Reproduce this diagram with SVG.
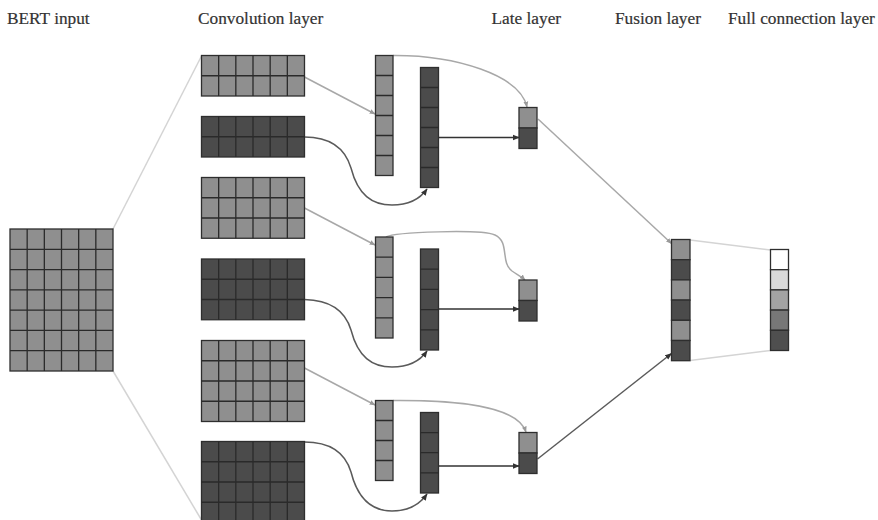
<svg xmlns="http://www.w3.org/2000/svg" width="878" height="520" viewBox="0 0 878 520">
  <style>
    .lbl { font-family: "Liberation Serif", "Times New Roman", serif; font-size: 17.3px; fill: #333; stroke: #333; stroke-width: 0.2; }
    .lt { fill: #8f8f8f; stroke: #2e2e2e; stroke-width: 1.3; }
    .dk { fill: #4b4b4b; stroke: #2e2e2e; stroke-width: 1.3; }
    .ln { fill: none; stroke: #2a2a2a; stroke-width: 1.3; }
    .fan { fill: none; stroke: #d4d4d4; stroke-width: 1.5; }
    .cl { fill: none; stroke: #a8a8a8; stroke-width: 1.5; marker-end: url(#ahL); }
    .cd { fill: none; stroke: #5a5a5a; stroke-width: 1.5; marker-end: url(#ahD); }
    .cs { fill: none; stroke: #333; stroke-width: 1.3; marker-end: url(#ahD); }
  </style>
  <defs>
    <marker id="ahL" viewBox="0 0 10 10" refX="9" refY="5" markerWidth="6" markerHeight="6" orient="auto" markerUnits="userSpaceOnUse">
      <path d="M0,1 L10,5 L0,9 Z" fill="#9a9a9a"/>
    </marker>
    <marker id="ahD" viewBox="0 0 10 10" refX="9" refY="5" markerWidth="7" markerHeight="7" orient="auto" markerUnits="userSpaceOnUse">
      <path d="M0,1 L10,5 L0,9 Z" fill="#333"/>
    </marker>
  </defs>
  <rect width="878" height="520" fill="#fff"/>

  <!-- layer titles -->
  <g id="titles">
    <text class="lbl" x="7" y="24">BERT input</text>
    <text class="lbl" x="198" y="24">Convolution layer</text>
    <text class="lbl" x="491.5" y="24">Late layer</text>
    <text class="lbl" x="615" y="24">Fusion layer</text>
    <text class="lbl" x="728" y="24">Full connection layer</text>
  </g>

  <!-- connectors -->
  <g id="connectors">
    <path class="fan" d="M113,229 L201.5,56"/>
    <path class="fan" d="M113,371 L201.5,520"/>

    <path class="cl" d="M304.5,77 L375,114"/>
    <path class="cl" d="M304.5,208 L375,245"/>
    <path class="cl" d="M304.5,368 L375,405"/>

    <path class="cd" d="M304.5,137 C330,137 345,148 351,168 C358,195 372,205 392,205 C408,205 420,199 427,189"/>
    <path class="cd" d="M304.5,299.5 C330,300 345,310 351,330 C358,357 372,367 392,367 C408,367 420,361 427,351"/>
    <path class="cd" d="M304.5,442 C330,442 345,452 351,472 C358,500 372,511 392,511 C408,511 420,504 427,494"/>

    <path class="cl" d="M393,55.5 C455,55 520,75 527,107"/>
    <path class="cl" d="M386,237 C395,232 480,229 495,235 C510,242 500,262 512,271 C518,275 522,277 525,280"/>
    <path class="cl" d="M393,400.5 C455,400 517,405 526,432"/>

    <path class="cs" d="M438.5,137.5 L519,137.5"/>
    <path class="cs" d="M438.5,309 L519,309"/>
    <path class="cs" d="M438.5,466 L519,466"/>

    <path class="cl" d="M538,119 L671.5,243.5"/>
    <path class="cd" d="M537.5,459 L671.5,353.5"/>

    <path class="fan" d="M690,240 L770.5,250"/>
    <path class="fan" d="M690,360.5 L770.5,350.5"/>
  </g>

  <!-- BERT input matrix, 6 x 7 -->
  <g id="bert-input" transform="translate(10,229)">
    <rect class="lt" width="103" height="142"/>
    <path class="ln" d="M17.17,0V142M34.33,0V142M51.5,0V142M68.67,0V142M85.83,0V142M0,20.29H103M0,40.57H103M0,60.86H103M0,81.14H103M0,101.43H103M0,121.71H103"/>
  </g>

  <!-- convolution feature maps -->
  <g id="conv-1" transform="translate(201.5,55.5)">
    <rect class="lt" width="103" height="40.5"/>
    <path class="ln" d="M17.17,0V40.5M34.33,0V40.5M51.5,0V40.5M68.67,0V40.5M85.83,0V40.5M0,20.25H103"/>
  </g>
  <g id="conv-2" transform="translate(201.5,116.5)">
    <rect class="dk" width="103" height="40.5"/>
    <path class="ln" d="M17.17,0V40.5M34.33,0V40.5M51.5,0V40.5M68.67,0V40.5M85.83,0V40.5M0,20.25H103"/>
  </g>
  <g id="conv-3" transform="translate(201.5,177.5)">
    <rect class="lt" width="103" height="60.75"/>
    <path class="ln" d="M17.17,0V60.75M34.33,0V60.75M51.5,0V60.75M68.67,0V60.75M85.83,0V60.75M0,20.25H103M0,40.5H103"/>
  </g>
  <g id="conv-4" transform="translate(201.5,259)">
    <rect class="dk" width="103" height="60.75"/>
    <path class="ln" d="M17.17,0V60.75M34.33,0V60.75M51.5,0V60.75M68.67,0V60.75M85.83,0V60.75M0,20.25H103M0,40.5H103"/>
  </g>
  <g id="conv-5" transform="translate(201.5,340.5)">
    <rect class="lt" width="103" height="81"/>
    <path class="ln" d="M17.17,0V81M34.33,0V81M51.5,0V81M68.67,0V81M85.83,0V81M0,20.25H103M0,40.5H103M0,60.75H103"/>
  </g>
  <g id="conv-6" transform="translate(201.5,441.5)">
    <rect class="dk" width="103" height="81"/>
    <path class="ln" d="M17.17,0V81M34.33,0V81M51.5,0V81M68.67,0V81M85.83,0V81M0,20.25H103M0,40.5H103M0,60.75H103"/>
  </g>

  <!-- pooled vectors -->
  <g id="pool-light-1" transform="translate(375.5,55.5)">
    <rect class="lt" width="17.5" height="120"/>
    <path class="ln" d="M0,20H17.5M0,40H17.5M0,60H17.5M0,80H17.5M0,100H17.5"/>
  </g>
  <g id="pool-dark-1" transform="translate(420.5,67.5)">
    <rect class="dk" width="18" height="120"/>
    <path class="ln" d="M0,20H18M0,40H18M0,60H18M0,80H18M0,100H18"/>
  </g>
  <g id="pool-light-2" transform="translate(375.5,237)">
    <rect class="lt" width="17.5" height="101"/>
    <path class="ln" d="M0,20.2H17.5M0,40.4H17.5M0,60.6H17.5M0,80.8H17.5"/>
  </g>
  <g id="pool-dark-2" transform="translate(420.5,249)">
    <rect class="dk" width="18" height="101"/>
    <path class="ln" d="M0,20.2H18M0,40.4H18M0,60.6H18M0,80.8H18"/>
  </g>
  <g id="pool-light-3" transform="translate(375.5,400.5)">
    <rect class="lt" width="17.5" height="80"/>
    <path class="ln" d="M0,20H17.5M0,40H17.5M0,60H17.5"/>
  </g>
  <g id="pool-dark-3" transform="translate(420.5,412.5)">
    <rect class="dk" width="18" height="80.5"/>
    <path class="ln" d="M0,20.1H18M0,40.2H18M0,60.3H18"/>
  </g>

  <!-- late layer pairs -->
  <g id="late-1" transform="translate(519,107.5)">
    <rect class="lt" width="18" height="20.5"/>
    <rect class="dk" y="20.5" width="18" height="20.5"/>
  </g>
  <g id="late-2" transform="translate(519,280)">
    <rect class="lt" width="18" height="20.5"/>
    <rect class="dk" y="20.5" width="18" height="20.5"/>
  </g>
  <g id="late-3" transform="translate(519,432.5)">
    <rect class="lt" width="18" height="20.5"/>
    <rect class="dk" y="20.5" width="18" height="20.5"/>
  </g>

  <!-- fusion vector -->
  <g id="fusion" transform="translate(671.5,239.5)">
    <rect class="lt" width="18.5" height="20.2"/>
    <rect class="dk" y="20.2" width="18.5" height="20.2"/>
    <rect class="lt" y="40.4" width="18.5" height="20.2"/>
    <rect class="dk" y="60.6" width="18.5" height="20.2"/>
    <rect class="lt" y="80.8" width="18.5" height="20.2"/>
    <rect class="dk" y="101" width="18.5" height="20.2"/>
  </g>

  <!-- fully connected output -->
  <g id="full-connection" transform="translate(770.5,249.5)" stroke="#2e2e2e" stroke-width="1.3">
    <rect width="18" height="20.2" fill="#ffffff"/>
    <rect y="20.2" width="18" height="20.2" fill="#d9d9d9"/>
    <rect y="40.4" width="18" height="20.2" fill="#a3a3a3"/>
    <rect y="60.6" width="18" height="20.2" fill="#777777"/>
    <rect y="80.8" width="18" height="20.2" fill="#4f4f4f"/>
  </g>
</svg>
